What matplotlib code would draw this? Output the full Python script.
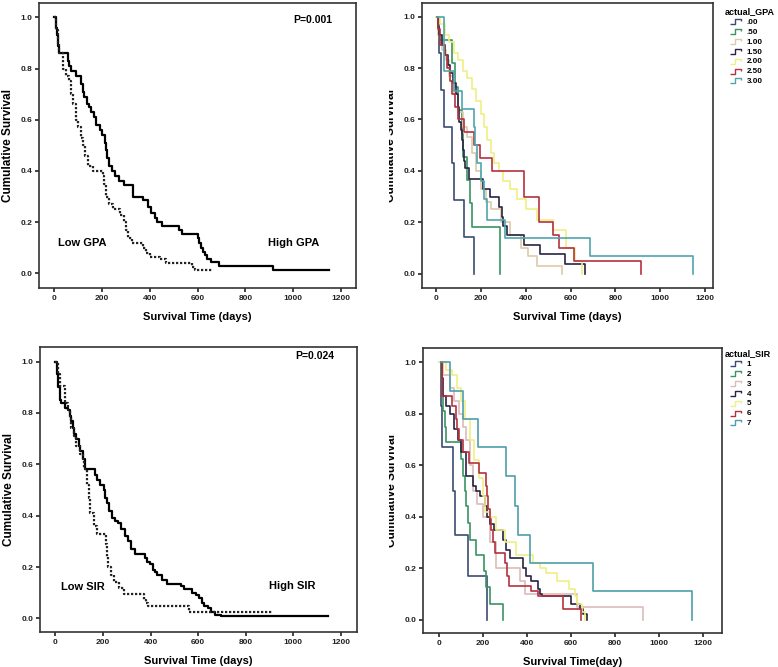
import matplotlib
matplotlib.use('Agg')
import matplotlib.pyplot as plt
from matplotlib.path import Path
from matplotlib.lines import Line2D
from matplotlib.transforms import Bbox, TransformedBbox

plt.rcParams['font.family'] = ['Liberation Sans', 'DejaVu Sans']
plt.rcParams['font.weight'] = 'bold'

# ---- data: Kaplan-Meier steps (time in days, cumulative survival) ----
high_gpa_t = [0, 8, 12, 16, 20, 55, 62, 70, 90, 112, 118, 124, 135, 145, 155, 165, 175, 190, 200, 210,
              215, 222, 230, 240, 255, 270, 290, 330, 370, 390, 405, 420, 430, 450, 520, 535, 600, 606,
              612, 620, 630, 640, 655, 690, 915, 1148]
high_gpa_s = [1.0, 0.96, 0.93, 0.89, 0.86, 0.83, 0.81, 0.79, 0.77, 0.74, 0.71, 0.69, 0.66, 0.65, 0.63,
              0.61, 0.58, 0.56, 0.54, 0.51, 0.48, 0.45, 0.42, 0.40, 0.38, 0.36, 0.345, 0.30, 0.285, 0.26,
              0.235, 0.215, 0.20, 0.185, 0.17, 0.155, 0.14, 0.12, 0.10, 0.085, 0.07, 0.055, 0.045, 0.03,
              0.012, 0.012]
low_gpa_t = [0, 8, 14, 20, 35, 49, 60, 70, 78, 88, 100, 110, 119, 126, 140, 161, 203, 208, 217, 230, 245,
             273, 290, 298, 308, 326, 371, 385, 399, 441, 469, 574, 588, 660]
low_gpa_s = [1.0, 0.95, 0.90, 0.86, 0.80, 0.77, 0.75, 0.70, 0.66, 0.60, 0.57, 0.53, 0.50, 0.46, 0.42, 0.40,
             0.38, 0.35, 0.30, 0.27, 0.25, 0.23, 0.20, 0.17, 0.14, 0.12, 0.10, 0.08, 0.065, 0.055, 0.04,
             0.025, 0.013, 0.013]

high_sir_t = [0, 6, 12, 18, 24, 42, 52, 60, 66, 73, 80, 87, 97, 105, 115, 126, 168, 175, 189, 204, 210,
              218, 226, 239, 252, 263, 275, 291, 305, 319, 333, 375, 385, 398, 410, 420, 428, 448, 470, 527,
              540, 548, 576, 590, 605, 615, 625, 640, 655, 670, 695, 1148]
high_sir_s = [1.0, 0.95, 0.90, 0.85, 0.84, 0.82, 0.81, 0.79, 0.77, 0.74, 0.72, 0.70, 0.67, 0.65, 0.62,
              0.58, 0.56, 0.54, 0.52, 0.50, 0.47, 0.45, 0.42, 0.39, 0.38, 0.37, 0.35, 0.32, 0.30, 0.27,
              0.25, 0.235, 0.22, 0.21, 0.19, 0.18, 0.17, 0.15, 0.135, 0.125, 0.115, 0.115, 0.10, 0.09,
              0.08, 0.06, 0.05, 0.04, 0.025, 0.015, 0.008, 0.008]
low_sir_t = [0, 10, 20, 40, 52, 60, 66, 77, 88, 105, 115, 122, 132, 140, 145, 160, 175, 211, 216, 222,
             235, 246, 267, 288, 372, 380, 389, 562, 915]
low_sir_s = [1.0, 0.95, 0.905, 0.84, 0.81, 0.78, 0.74, 0.71, 0.67, 0.64, 0.62, 0.58, 0.52, 0.47, 0.41,
             0.36, 0.33, 0.29, 0.24, 0.20, 0.17, 0.14, 0.12, 0.095, 0.07, 0.06, 0.048, 0.025, 0.025]

gpa_labels = ['.00', '.50', '1.00', '1.50', '2.00', '2.50', '3.00']
gpa_colors = ['#3d4b72', '#3a9462', '#dccbaa', '#2a2442', '#efef86', '#b4313e', '#4ea6ac']
gpa_t = [
    [8, 15, 22, 34, 71, 79, 126, 168],
    [8, 15, 72, 85, 100, 116, 122, 138, 153, 163, 284],
    [0, 10, 25, 45, 60, 80, 100, 120, 140, 160, 180, 200, 225, 245, 290, 330, 380, 410, 450, 561],
    [5, 10, 15, 25, 40, 55, 65, 75, 90, 100, 105, 110, 115, 120, 125, 131, 149, 208, 242, 280, 294, 301,
     316, 391, 465, 577, 665],
    [0, 20, 40, 60, 80, 100, 120, 140, 160, 180, 200, 215, 230, 245, 260, 280, 300, 330, 360, 400, 450,
     520, 580, 620, 650],
    [5, 10, 20, 40, 50, 62, 70, 85, 100, 125, 168, 195, 250, 391, 458, 524, 547, 614, 914],
    [4, 34, 80, 116, 168, 175, 185, 200, 215, 227, 309, 688, 1148],
]
gpa_s = [
    [1.0, 0.857, 0.714, 0.571, 0.429, 0.286, 0.143, 0.0],
    [1.0, 0.909, 0.818, 0.727, 0.636, 0.545, 0.455, 0.364, 0.273, 0.182, 0.0],
    [1.0, 0.93, 0.87, 0.83, 0.77, 0.70, 0.63, 0.57, 0.53, 0.47, 0.40, 0.33, 0.28, 0.25, 0.20, 0.15, 0.10,
     0.07, 0.03, 0.0],
    [1.0, 0.96, 0.93, 0.89, 0.85, 0.81, 0.78, 0.74, 0.70, 0.65, 0.59, 0.56, 0.52, 0.48, 0.44, 0.41, 0.37,
     0.33, 0.30, 0.26, 0.22, 0.185, 0.15, 0.11, 0.075, 0.037, 0.0],
    [1.0, 0.97, 0.93, 0.90, 0.86, 0.83, 0.79, 0.76, 0.72, 0.67, 0.62, 0.57, 0.52, 0.47, 0.43, 0.40, 0.36,
     0.33, 0.29, 0.25, 0.21, 0.17, 0.10, 0.05, 0.0],
    [1.0, 0.95, 0.89, 0.85, 0.80, 0.75, 0.70, 0.65, 0.60, 0.55, 0.50, 0.45, 0.40, 0.30, 0.20, 0.15, 0.10,
     0.05, 0.0],
    [1.0, 0.79, 0.71, 0.64, 0.57, 0.50, 0.43, 0.36, 0.29, 0.21, 0.14, 0.07, 0.0],
]

sir_labels = ['1', '2', '3', '4', '5', '6', '7']
sir_colors = ['#3d4b72', '#3a9462', '#dbbcb8', '#2a2442', '#efef86', '#b4313e', '#4e9eac']
sir_t = [
    [8, 11, 15, 64, 71, 132, 218],
    [5, 10, 15, 20, 25, 33, 100, 110, 118, 125, 132, 140, 170, 205, 216, 231, 289],
    [0, 20, 49, 70, 90, 110, 125, 140, 155, 175, 200, 230, 261, 368, 390, 626, 930],
    [8, 12, 18, 30, 50, 70, 85, 100, 125, 155, 170, 185, 208, 220, 231, 250, 292, 305, 325, 383, 398, 420,
     451, 460, 467, 600, 641, 655, 672],
    [0, 30, 60, 80, 100, 120, 140, 160, 180, 200, 208, 230, 260, 300, 352, 429, 460, 489, 535, 590, 619,
     630, 650, 665],
    [8, 12, 15, 60, 75, 80, 90, 110, 135, 180, 216, 220, 225, 230, 237, 245, 255, 300, 310, 320, 420, 451,
     565, 645],
    [10, 49, 109, 178, 307, 345, 360, 413, 702, 1150],
]
sir_s = [
    [1.0, 0.83, 0.67, 0.50, 0.33, 0.17, 0.0],
    [1.0, 0.94, 0.875, 0.81, 0.75, 0.69, 0.625, 0.56, 0.50, 0.44, 0.375, 0.31, 0.25, 0.19, 0.125, 0.0625, 0.0],
    [1.0, 0.95, 0.90, 0.85, 0.80, 0.75, 0.70, 0.60, 0.50, 0.45, 0.40, 0.30, 0.20, 0.15, 0.10, 0.05, 0.0],
    [1.0, 0.94, 0.87, 0.83, 0.80, 0.74, 0.70, 0.65, 0.56, 0.52, 0.50, 0.48, 0.44, 0.40, 0.37, 0.35, 0.31,
     0.27, 0.24, 0.20, 0.17, 0.15, 0.12, 0.10, 0.09, 0.06, 0.04, 0.02, 0.0],
    [1.0, 0.97, 0.95, 0.90, 0.85, 0.78, 0.70, 0.62, 0.55, 0.48, 0.42, 0.40, 0.35, 0.30, 0.25, 0.22, 0.20,
     0.18, 0.15, 0.12, 0.09, 0.06, 0.03, 0.0],
    [1.0, 0.96, 0.87, 0.83, 0.78, 0.74, 0.70, 0.65, 0.61, 0.57, 0.52, 0.48, 0.43, 0.39, 0.35, 0.30, 0.26,
     0.22, 0.17, 0.13, 0.11, 0.09, 0.04, 0.0],
    [1.0, 0.89, 0.78, 0.67, 0.56, 0.44, 0.33, 0.22, 0.11, 0.0],
]

xticks = [0, 200, 400, 600, 800, 1000, 1200]
yticks = [0.0, 0.2, 0.4, 0.6, 0.8, 1.0]

fig = plt.figure(figsize=(7.78, 6.67), dpi=100)
ax1 = fig.add_axes([0.0501, 0.5682, 0.4075, 0.4273])
ax2 = fig.add_axes([0.5424, 0.5682, 0.3740, 0.4273])
ax3 = fig.add_axes([0.0514, 0.0525, 0.4075, 0.4273])
ax4 = fig.add_axes([0.5437, 0.0510, 0.3843, 0.4273])

ax1.step(high_gpa_t, high_gpa_s, where='post', color='black', lw=1.6)
ax1.step(low_gpa_t, low_gpa_s, where='post', color='#222222', lw=1.6, linestyle=(0, (1, 0.8)))
ax1.text(1083, 0.99, 'P=0.001', ha='center', va='center', fontsize=7.5, fontweight='bold')
ax1.text(115, 0.12, 'Low GPA', ha='center', va='center', fontsize=8, fontweight='bold')
ax1.text(1000, 0.12, 'High GPA', ha='center', va='center', fontsize=8, fontweight='bold')
ax1.set_xlim(-65, 1263)
ax1.set_ylim(-0.057, 1.056)

ax3.step(high_sir_t, high_sir_s, where='post', color='black', lw=1.6)
ax3.step(low_sir_t, low_sir_s, where='post', color='#222222', lw=1.6, linestyle=(0, (1, 0.8)))
ax3.text(1090, 1.02, 'P=0.024', ha='center', va='center', fontsize=7.5, fontweight='bold')
ax3.text(115, 0.122, 'Low SIR', ha='center', va='center', fontsize=8, fontweight='bold')
ax3.text(995, 0.125, 'High SIR', ha='center', va='center', fontsize=8, fontweight='bold')
ax3.set_xlim(-65, 1268)
ax3.set_ylim(-0.053, 1.057)

# step glyph for the legend entries
step_glyph = Path([(-1.0, -0.4), (-0.2, -0.4), (-0.2, 0.4), (0.8, 0.4), (0.8, 0.0)],
                  [Path.MOVETO, Path.LINETO, Path.LINETO, Path.LINETO, Path.LINETO])

for i in range(len(gpa_labels)):
    ax2.step(gpa_t[i], gpa_s[i], where='post', color=gpa_colors[i], lw=1.2)
for i in range(len(sir_labels)):
    ax4.step(sir_t[i], sir_s[i], where='post', color=sir_colors[i], lw=1.2)
ax2.set_xlim(-62, 1235)
ax2.set_ylim(-0.056, 1.053)
ax4.set_xlim(-73, 1288)
ax4.set_ylim(-0.052, 1.056)

for ax, labels, colors, title, top in [(ax2, gpa_labels, gpa_colors, 'actual_GPA', 7),
                                       (ax4, sir_labels, sir_colors, 'actual_SIR', 349)]:
    handles = [Line2D([], [], linestyle='none', marker=step_glyph, markersize=9,
                      markerfacecolor='none', markeredgecolor=c, markeredgewidth=1.0) for c in colors]
    leg = ax.legend(handles, labels, title=title, loc='upper left',
                    bbox_to_anchor=(725 / 778, 1 - top / 667), bbox_transform=fig.transFigure,
                    frameon=False, fontsize=5.8, title_fontsize=6.5, handlelength=2.7,
                    handletextpad=0.0, labelspacing=0.28, borderaxespad=0, borderpad=0,
                    alignment='left')
    leg.get_title().set_fontweight('bold')
    for t in leg.get_texts():
        t.set_fontweight('bold')

xlabels = ['Survival Time (days)', 'Survival Time (days)', 'Survival Time (days)', 'Survival Time(day)']
for ax, xl in zip([ax1, ax2, ax3, ax4], xlabels):
    ax.set_xticks(xticks)
    ax.set_yticks(yticks)
    ax.set_xticklabels([str(v) for v in xticks])
    ax.set_yticklabels(['%.1f' % v for v in yticks])
    ax.tick_params(direction='out', length=3, width=1.2, labelsize=6, colors='#222222', pad=2)
    for lb in ax.get_xticklabels() + ax.get_yticklabels():
        lb.set_fontweight('bold')
    for sp in ax.spines.values():
        sp.set_color('#333333')
        sp.set_linewidth(1.2)
    ax.set_xlabel(xl, fontsize=8, fontweight='bold', labelpad=7)
    ax.set_ylabel('Cumulative Survival', fontsize=8.5, fontweight='bold', labelpad=4.5)

# right-hand y labels are cut by the panel edge in the original
for ax in [ax2, ax4]:
    lbl = ax.yaxis.label
    lbl.set_clip_box(TransformedBbox(Bbox([[389 / 778, 0], [1, 1]]), fig.transFigure))
    lbl.set_clip_on(True)

fig.savefig('out.png', dpi=100)
